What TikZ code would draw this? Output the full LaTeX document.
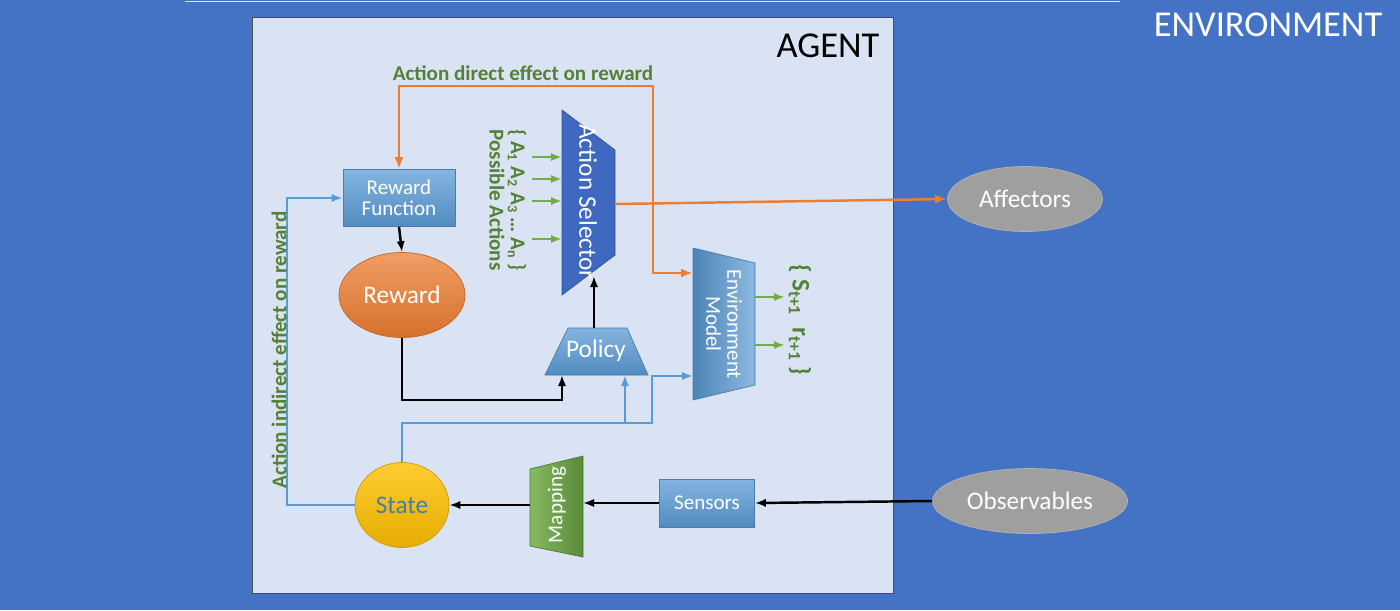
\documentclass[tikz,border=0pt]{standalone}
\usepackage{fontspec}
\setmainfont{Carlito}
\usetikzlibrary{shapes.geometric,arrows.meta}
\definecolor{envblue}{HTML}{4472C4}
\definecolor{agentbg}{HTML}{DAE3F3}
\definecolor{boxblue}{HTML}{5B9BD5}
\definecolor{selblue}{HTML}{3F68C0}
\definecolor{lineorange}{HTML}{ED7D31}
\definecolor{txtgreen}{HTML}{548235}
\definecolor{arrgreen}{HTML}{70AD47}
\definecolor{gold}{HTML}{FFC000}
\tikzset{
    blk/.style={draw=boxblue!80!black, top color=boxblue!75!white, bottom color=boxblue!90!black, text=white},
    ball/.style={ellipse, minimum width=1.88cm, minimum height=1.7cm},
    gray oval/.style={ellipse, draw=gray!60, fill=gray!75, text=white, minimum width=3.1cm, minimum height=1.3cm, font=\Large},
    blackline/.style={line width=1.4pt, -{Latex[length=2.2mm]}},
    blueline/.style={boxblue, line width=1.2pt, -{Latex[length=2.2mm]}},
    orangeline/.style={lineorange, line width=1.4pt, -{Latex[length=2.4mm]}},
    greenline/.style={arrgreen, line width=1.4pt, -{Latex[length=2.2mm]}},
    lbl/.style={txtgreen, font=\bfseries}
}
\begin{document}
\begin{tikzpicture}[x=0.02cm, y=-0.02cm]
    \fill[envblue] (0,0) rectangle (1400,610);
    \useasboundingbox (0,0) rectangle (1400,610);
    \draw[agentbg, line width=0.4pt] (185,1) -- (1120,1);
    \draw[fill=agentbg, draw=black!70] (252,17) rectangle (893,593);
    \node[font=\huge] (agent) at (828,46) {AGENT};
    \node[font=\huge, text=white] (env) at (1268,25) {ENVIRONMENT};

    % blocks
    \node[blk, minimum width=2.24cm, minimum height=1.14cm, align=center, font=\large] (rf) at (399,198) {Reward\\[-2pt]Function};
    \node[ball, draw=lineorange!80!black, top color=lineorange!75!white, bottom color=lineorange!90!black, text=white, font=\Large] (rw) at (402,295) {Reward};
    \node[ball, draw=gold!80!black, top color=gold!80!white, bottom color=gold!90!black, text=boxblue!80!black, font=\Large] (st) at (402,505) {State};
    \node[blk, minimum width=1.9cm, minimum height=0.96cm, font=\large] (sen) at (707,503) {Sensors};
    \node[gray oval] (aff) at (1025,199) {Affectors};
    \node[gray oval] (obs) at (1030,501) {Observables};

    % trapezoids
    \draw[blk] (568,328) -- (627,328) -- (648,375) -- (545,375) -- cycle;
    \node[text=white, font=\Large] (pol) at (596,351) {Policy};
    \coordinate (polT) at (594,328);
    \coordinate (polBL) at (562,375);
    \coordinate (polBR) at (625,375);
    \draw[draw=selblue!80!black, fill=selblue] (562,110) -- (615,150) -- (615,255) -- (562,295) -- cycle;
    \node[rotate=-90, text=white, font=\Large] (sel) at (588,202) {Action Selector};
    \coordinate (selR) at (615,204);
    \coordinate (selB) at (594,276);
    \draw[draw=boxblue!80!black, left color=boxblue!85!black, right color=boxblue!70!white] (693,248) -- (755,263) -- (755,385) -- (693,400) -- cycle;
    \node[rotate=-90, text=white, align=center, font=\large] (em) at (724,324) {Environment\\[-2pt]Model};
    \draw[draw=arrgreen!70!black, left color=arrgreen!85!white, right color=arrgreen!80!black] (530,469) -- (583,456) -- (583,557) -- (530,546) -- cycle;
    \node[rotate=90, text=white, font=\large] (map) at (557,505) {Mapping};

    % orange connectors
    \coordinate (jn) at (653,204);
    \draw[orangeline] (selR) -- (aff.west);
    \draw[orangeline] (jn) -- (653,86) -| (rf.north);
    \draw[orangeline] (jn) |- (693,273);
    \node[lbl, font=\large\bfseries] (dlab) at (523,73) {Action direct effect on reward};

    % possible actions
    \foreach \y in {157,179,201,239}
        \draw[greenline] (532,\y) -- (562,\y);
    \node[lbl, rotate=-90, font=\large\bfseries] (acts) at (517,200) {\{ A\textsubscript{1} A\textsubscript{2} A\textsubscript{3} \dots\ A\textsubscript{n} \}};
    \node[lbl, rotate=-90, font=\large\bfseries] (poss) at (497,200) {Possible Actions};

    % model outputs
    \foreach \y in {297,345}
        \draw[greenline] (755,\y) -- (785,\y);
    \node[lbl, rotate=-90, font=\Large\bfseries] (next) at (800,320) {\{ S\textsubscript{t+1}\ \ r\textsubscript{t+1} \}};

    % black connectors
    \draw[blackline] (rf.south) -- (rw.north);
    \draw[blackline] (rw.south) -- (402,400) -| (polBL);
    \draw[blackline] (polT) -- (selB);
    \draw[blackline] (obs.west) -- (sen.east);
    \draw[blackline] (sen.west) -- (583,503);
    \draw[blackline] (530,505) -- (st.east);

    % blue connectors
    \draw[blueline] (st.north) -- (402,423) -- (652,423) |- (693,376);
    \draw[blueline] (625,423) -- (polBR);
    \draw[blueline] (st.west) -- (287,505) |- (rf.west);
    \node[lbl, rotate=90, font=\large\bfseries] (ilab) at (279,350) {Action indirect effect on reward};
\end{tikzpicture}
\end{document}
